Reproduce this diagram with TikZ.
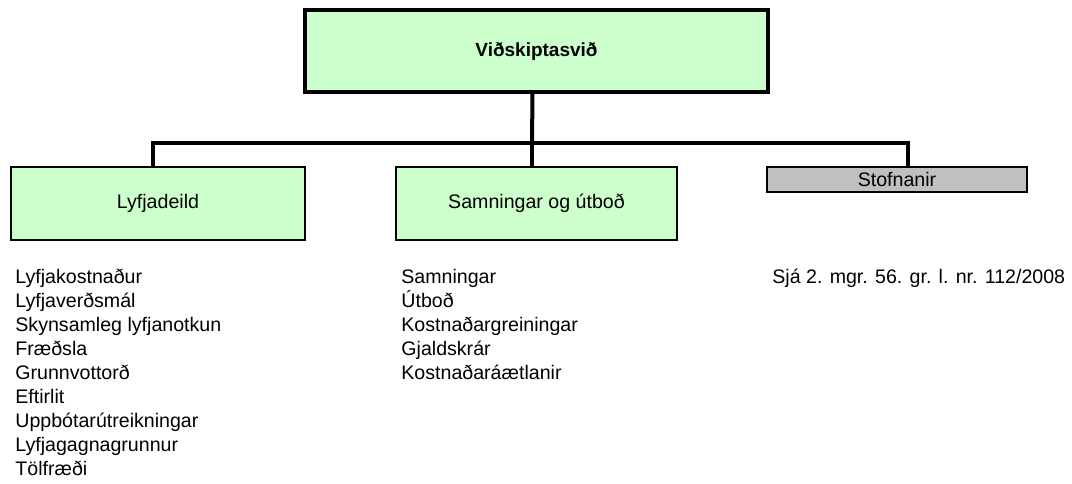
\documentclass[tikz,border=0pt]{standalone}
\usepackage{fontspec}
\setmainfont{Liberation Sans}
\usetikzlibrary{positioning}
\definecolor[named]{OrgGreen}{RGB}{204,255,204}
\definecolor[named]{OrgGray}{RGB}{192,192,192}
\tikzset{
  unit/.style={draw, line width=0.75pt, fill=OrgGreen, inner sep=0pt, minimum height=36.5pt},
  head/.style={unit, line width=2pt, font=\fontsize{9.5}{12}\selectfont\bfseries},
  conn/.style={line width=2pt},
  tasks/.style={anchor=base west, align=left, inner sep=0pt}
}

\begin{document}
\begin{tikzpicture}[x=0.5pt,y=-0.5pt]
        \fontsize{9.8}{12}\selectfont
        \useasboundingbox (0,0) rectangle (1072,483);
        \node[head, minimum width=231.5pt, minimum height=41pt] (svid) at (536.5,51) {Viðskiptasvið};
        \node[unit, minimum width=147pt] (lyf) at (158,203.5) {Lyfjadeild};
        \node[unit, minimum width=140.5pt] (smn) at (536.5,203.5) {Samningar og útboð};
        \node[unit, fill=OrgGray, minimum width=130pt, minimum height=12.5pt] (stf) at (897,179.5) {Stofnanir};
        % tree lines
        \coordinate (bus) at (532,143);
        \draw[conn] ([xshift=-2pt]svid.south) -- (bus);
        \draw[conn] ([xshift=-2.5pt]lyf.north) |- (bus) -| ([xshift=5.5pt]stf.north);
        \draw[conn] (bus) -- ([xshift=-2.25pt]smn.north);
        % base = last line, first line sits at y=283
        \begin{scope}[every node/.style={tasks}]
          \node (lyflist) at (15,475) {Lyfjakostnaður\\Lyfjaverðsmál\\Skynsamleg lyfjanotkun\\Fræðsla\\Grunnvottorð\\Eftirlit\\Uppbótarútreikningar\\Lyfjagagnagrunnur\\Tölfræði};
          \node (smnlist) at (401,379) {Samningar\\Útboð\\Kostnaðargreiningar\\Gjaldskrár\\Kostnaðaráætlanir};
          \node (stfnote) at (772,283) {Sjá 2. mgr. 56. gr. l. nr. 112/2008};
        \end{scope}
      \end{tikzpicture}
\end{document}
